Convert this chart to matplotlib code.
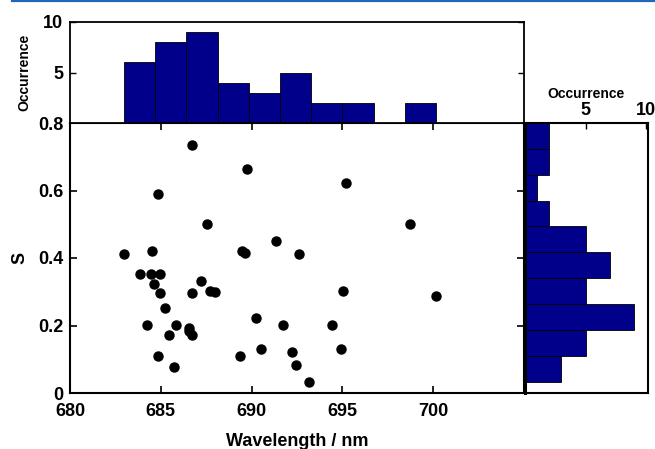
import numpy as np
import matplotlib.pyplot as plt
from matplotlib.lines import Line2D

plt.rcParams['font.family'] = ['Liberation Sans', 'DejaVu Sans']
plt.rcParams['font.weight'] = 'bold'
plt.rcParams['axes.labelweight'] = 'bold'
plt.rcParams['font.size'] = 13

# measured points (wavelength in nm, S)
wavelength = [686.72, 689.74, 684.83, 687.53, 691.35, 682.98, 684.53, 689.46, 689.66,
              692.60, 683.84, 684.46, 684.96, 684.65, 684.96, 686.72, 687.22, 687.71,
              687.99, 685.22, 684.22, 685.84, 685.45, 686.54, 686.54, 686.72, 684.83,
              685.73, 690.23, 691.72, 689.35, 690.52, 692.21, 692.47, 695.22, 698.72,
              695.05, 700.15, 694.45, 693.15, 694.90]
S = [0.734, 0.663, 0.591, 0.502, 0.451, 0.411, 0.421, 0.422, 0.414,
     0.411, 0.353, 0.353, 0.353, 0.323, 0.296, 0.296, 0.333, 0.303,
     0.299, 0.252, 0.202, 0.202, 0.171, 0.193, 0.185, 0.171, 0.111,
     0.077, 0.222, 0.202, 0.111, 0.131, 0.121, 0.084, 0.622, 0.501,
     0.302, 0.286, 0.202, 0.033, 0.131]

# S histogram as drawn on the right panel (bottom to top)
s_counts = [3, 5, 9, 5, 7, 5, 2, 1, 2, 2]
s_edges = np.linspace(0.034, 0.80, 11)

navy = '#00008b'
W, H = 655, 449

def box(l, t, r, b):
    return [l / W, 1 - b / H, (r - l) / W, (b - t) / H]

fig = plt.figure(figsize=(W / 100, H / 100), dpi=100)
ax = fig.add_axes(box(70, 123, 524, 393))
axt = fig.add_axes(box(70, 22, 524, 123))
axr = fig.add_axes(box(525, 123, 648, 393))

# scatter
ax.plot(wavelength, S, 'o', color='k', ms=6.5)
ax.set_xlim(680, 705)
ax.set_ylim(0, 0.8)
ax.set_xticks([680, 685, 690, 695, 700])
ax.set_yticks([0, 0.2, 0.4, 0.6, 0.8])
ax.set_yticklabels(['0', '0.2', '0.4', '0.6', '0.8'])
ax.tick_params(direction='in', top=True, right=True, length=5, width=1.2, pad=5)
ax.tick_params(axis='x', pad=7)
ax.set_xlabel('Wavelength / nm', labelpad=9.5)
ax.set_ylabel('S', labelpad=7)
for sp in ax.spines.values():
    sp.set_linewidth(1.5)

# top histogram
axt.hist(wavelength, bins=10, color=navy, edgecolor='k', linewidth=0.6)
axt.set_xlim(680, 705)
axt.set_ylim(0, 10)
axt.set_xticks([])
axt.set_yticks([5, 10])
axt.tick_params(direction='in', right=True, length=4, width=1, pad=5)
axt.set_ylabel('Occurrence', fontsize=10, labelpad=8)
for sp in axt.spines.values():
    sp.set_linewidth(1.3)

# right histogram
axr.barh(s_edges[:-1], s_counts, height=np.diff(s_edges), align='edge',
         color=navy, edgecolor='k', linewidth=0.6)
axr.set_ylim(0, 0.8)
axr.set_xlim(0, 10.15)
axr.set_yticks([])
axr.xaxis.tick_top()
axr.xaxis.set_label_position('top')
axr.set_xticks([5, 10])
axr.tick_params(direction='in', length=4, width=1, pad=3)
axr.set_xlabel('Occurrence', fontsize=10, labelpad=3)
for sp in axr.spines.values():
    sp.set_linewidth(1.5)
axr.spines['left'].set_linewidth(2.2)

fig.add_artist(Line2D([12 / W, 1], [1 - 1.2 / H, 1 - 1.2 / H], color='#2266bb', lw=1.6))

fig.savefig('out.png', dpi=100)
